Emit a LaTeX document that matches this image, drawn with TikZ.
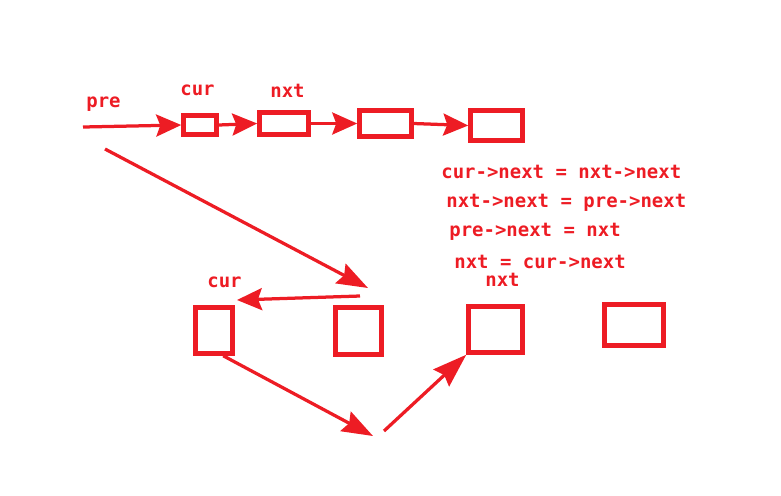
\documentclass[tikz,border=0pt]{standalone}
\usepackage{fontspec}
\newfontfamily\codefont{DejaVu Sans Mono}
\usetikzlibrary{arrows.meta}
\definecolor{paintred}{RGB}{237,28,36}
\begin{document}
\begin{tikzpicture}[x=0.02cm, y=-0.02cm]
    \tikzstyle{box} = [shape=rectangle, draw=paintred, line width=0.09cm, inner sep=0pt]
    \tikzstyle{lbl} = [text=paintred, font=\codefont\bfseries\fontsize{10.8}{12}\selectfont, inner sep=0pt, anchor=base west]
    \tikzstyle{link} = [draw=paintred, line width=0.065cm, -{Stealth[length=0.5cm, width=0.44cm, inset=0.08cm]}]
    \useasboundingbox (0, 0) rectangle (781, 495);

    % 原链表
    \path   (200, 125) node [box, minimum width=0.66cm, minimum height=0.38cm, name=a1] {}
            (284, 123.5) node [box, minimum width=0.98cm, minimum height=0.44cm, name=a2] {}
            (385.5, 123.5) node [box, minimum width=1.04cm, minimum height=0.52cm, name=a3] {}
            (496.5, 125.5) node [box, minimum width=1.04cm, minimum height=0.60cm, name=a4] {};

    % 交换之后
    \path   (214, 330.5) node [box, minimum width=0.74cm, minimum height=0.92cm, name=b1] {}
            (358.5, 331) node [box, minimum width=0.92cm, minimum height=0.94cm, name=b2] {}
            (495.5, 329.5) node [box, minimum width=1.08cm, minimum height=0.92cm, name=b3] {}
            (634, 325) node [box, minimum width=1.18cm, minimum height=0.82cm, name=b4] {};

    % 标签
    \path   (86, 107) node [lbl, name=pre] {pre}
            (180, 95) node [lbl, name=cura] {cur}
            (270, 97) node [lbl, name=nxta] {nxt}
            (207, 287) node [lbl, name=curb] {cur}
            (485, 286) node [lbl, name=nxtb] {nxt}
            (441, 178) node [lbl, name=s1] {cur->next = nxt->next}
            (446, 207) node [lbl, name=s2] {nxt->next = pre->next}
            (449, 236) node [lbl, name=s3] {pre->next = nxt}
            (454, 268) node [lbl, name=s4] {nxt = cur->next};

    % 箭头
    \coordinate (p0) at (83, 127);
    \coordinate (p1) at (105, 149);
    \coordinate (p2) at (368, 288);
    \coordinate (p3) at (360, 296);
    \coordinate (p4) at (237, 300);
    \coordinate (p5) at (373, 436);
    \coordinate (p6) at (384, 431);
    \draw [link] (p0) -- (a1.west);
    \draw [link] (a1.east) -- (a2.west);
    \draw [link] (a2.east) -- (a3.west);
    \draw [link] (a3.east) -- (a4.west);
    \draw [link, -{Stealth[length=0.62cm, width=0.44cm, inset=0.08cm]}] (p1) -- (p2);
    \draw [link] (p3) -- (p4);
    \draw [link, -{Stealth[length=0.62cm, width=0.44cm, inset=0.08cm]}] (b1.290) -- (p5);
    \draw [link, -{Stealth[length=0.68cm, width=0.46cm, inset=0.08cm]}] (p6) -- (b3.south west);
\end{tikzpicture}
\end{document}
